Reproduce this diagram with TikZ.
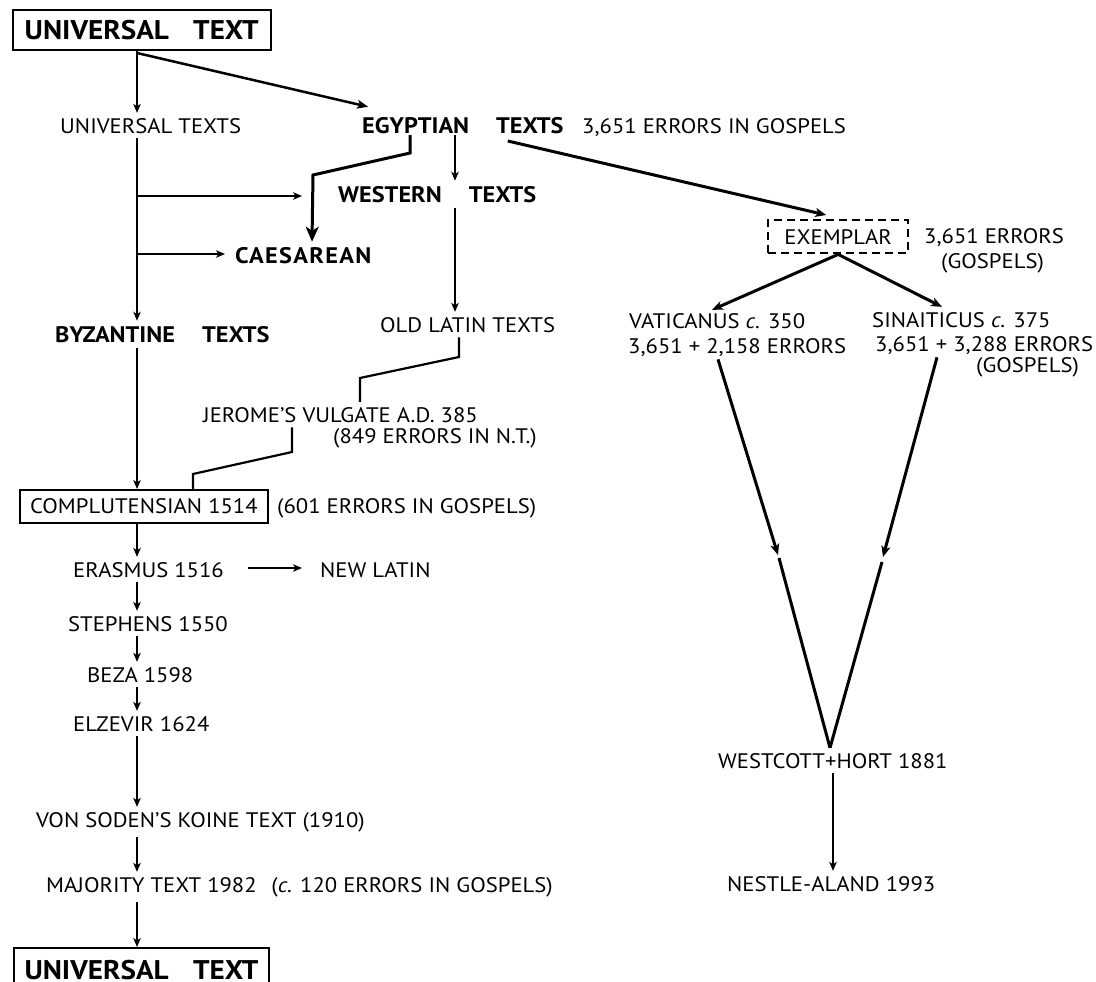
\documentclass[tikz,border=0pt]{standalone}
\usepackage{fontspec}
\setmainfont{PT Sans}[FakeStretch=1.08]
\usetikzlibrary{arrows.meta,calc}
\begin{document}
\begin{tikzpicture}[x=1pt,y=-1pt,
  txt/.style={inner xsep=0pt,inner ysep=5pt,anchor=base west,font=\fontsize{21}{25}\selectfont},
  btxt/.style={txt,font=\fontsize{22.5}{26}\selectfont\bfseries},
  ttlbox/.style={draw,line width=2pt,anchor=north west,inner sep=0pt,minimum width=258pt,font=\fontsize{27}{30}\selectfont\bfseries},
  plainbox/.style={draw,line width=1.8pt,anchor=north west,inner sep=0pt,font=\fontsize{21}{25}\selectfont},
  ln/.style={line width=2pt},
  arr/.style={ln,-{Stealth[length=9pt,width=7.5pt,inset=2.5pt]}},
  thk/.style={line width=3pt},
  tarr/.style={thk,-{Stealth[length=11pt,width=9pt,inset=3pt]}},
  barr/.style={thk,-{Stealth[length=15pt,width=13pt,inset=4pt]}},
]
\useasboundingbox (0,0) rectangle (1096,982);
\clip (0,0) rectangle (1096,982);

% ---------- nodes ----------
\node[ttlbox,minimum height=40pt] (t1) at (11.7,9) {UNIVERSAL\hspace{0.9em}TEXT};
\node[txt] (ut) at (60,133) {UNIVERSAL TEXTS};
\node[btxt] (eg) at (362,133) {EGYPTIAN\hspace{1.2em}TEXTS};
\node[txt] (eg2) at (582,133) {3,651 ERRORS IN GOSPELS};
\node[btxt] (we) at (338,202) {WESTERN\hspace{1.2em}TEXTS};
\node[btxt] (ca) at (235,263) {\addfontfeature{LetterSpace=6}CAESAREAN};
\node[txt] (ol) at (380,332) {OLD LATIN TEXTS};
\node[btxt] (by) at (55,342) {BYZANTINE\hspace{1.2em}TEXTS};
\node[txt] (je) at (203,422) {JEROME'S VULGATE A.D. 385};
\node[txt] (je2) at (333,443) {(849 ERRORS IN N.T.)};
\node[plainbox,minimum width=248pt,minimum height=33pt] (co) at (19,489) {COMPLUTENSIAN 1514};
\node[txt] (co2) at (277,513) {(601 ERRORS IN GOSPELS)};
\node[txt] (er) at (73,577) {ERASMUS 1516};
\node[txt] (nl) at (320,577) {NEW LATIN};
\node[txt] (st) at (68,631) {STEPHENS 1550};
\node[txt] (bz) at (87,682) {BEZA 1598};
\node[txt] (el) at (73,731) {ELZEVIR 1624};
\node[txt] (vs) at (36,827) {VON SODEN'S KOINE TEXT (1910)};
\node[txt] (mj) at (46,892) {MAJORITY TEXT 1982\hspace{0.7em}(\textit{c.} 120 ERRORS IN GOSPELS)};
\node[ttlbox,minimum width=255pt,minimum height=45pt] (t2) at (13,947) {UNIVERSAL\hspace{0.9em}TEXT};

\node[draw,dash pattern=on 8pt off 5pt,line width=2.4pt,anchor=north west,inner sep=0pt,
      minimum width=140pt,minimum height=33pt,font=\fontsize{21}{25}\selectfont] (ex) at (767,219) {EXEMPLAR};
\node[txt] (ex2) at (924,243) {3,651 ERRORS};
\node[txt] (ex3) at (941,268) {(GOSPELS)};
\node[txt] (va) at (629,328) {VATICANUS \textit{c.} 350};
\node[txt] (va2) at (628,353) {3,651 + 2,158 ERRORS};
\node[txt] (si) at (872,327) {SINAITICUS \textit{c.} 375};
\node[txt] (si2) at (875,351) {3,651 + 3,288 ERRORS};
\node[txt] (si3) at (976,372) {(GOSPELS)};
\node[txt] (wh) at (718,768) {WESTCOTT+HORT 1881};
\node[txt] (na) at (727,891) {NESTLE-ALAND 1993};

% ---------- helper coordinates ----------
\coordinate (jtop) at (137,53);
\coordinate (b1) at (137,196);
\coordinate (b2) at (137,254);
\coordinate (vamid) at (778,555);
\coordinate (simid) at (883,557);

% ---------- connectors ----------
\draw[arr] (jtop) -- (jtop |- ut.north);
\draw[line width=2.5pt,-{Stealth[length=11pt,width=9pt,inset=3pt]}] (jtop) -- ($(eg.north west)+(6,-5)$);
\draw[ln] (jtop) -- (jtop |- t1.south);

\draw[arr] (ut.south -| jtop) -- (jtop |- by.north);
\draw[arr] (b1) -- ($(we.west |- b1)+(-36,0)$);
\draw[arr] (b2) -- ($(ca.west |- b2)+(-10,0)$);

\draw[barr] ($(eg.base west)+(48,2)$) -- (410,153) -- (313,175) -- (ca.north -| 312,0);
\draw[arr] ($(eg.base west)+(93,2)$) -- (we.north -| 455,0);
\draw[arr] (we.south -| 455,0) -- (ol.north -| 455,0);

\draw[line width=2.2pt] (ol.south -| 459,0) -- (459,357) -- (360,378) -- (je.north -| 360,0);
\draw[arr] (by.south -| jtop) -- (jtop |- co.north);
\draw[line width=2.2pt] (je.south -| 292,0) -- (292,452) -- (193,474) -- (co.north -| 193,0);

\draw[arr] (co.south -| jtop) -- (jtop |- er.north);
\draw[arr] ($(er.base east)+(24,-9)$) -- ($(nl.base west)+(-18,-9)$);
\draw[arr] (er.south -| jtop) -- (jtop |- st.north);
\draw[arr] (st.south -| jtop) -- (jtop |- bz.north);
\draw[arr] (bz.south -| jtop) -- (jtop |- el.north);
\draw[arr] (el.south -| jtop) -- (jtop |- vs.north);
\draw[arr] (vs.south -| jtop) -- (jtop |- mj.north);
\draw[arr] (mj.south -| jtop) -- (jtop |- t2.north);

\draw[tarr] ($(eg.base east)+(-56,8)$) -- ($(ex.north)+(-12,-4)$);
\draw[tarr] (ex.south) -- ($(va.north west)+(83,2)$);
\draw[tarr] (ex.south) -- ($(si.north west)+(70,0)$);
\draw[tarr] ($(va2.south west)+(90,-2)$) -- (vamid);
\draw[thk] ($(vamid)+(1,3)$) -- (wh.north -| 830,0);
\draw[tarr] ($(si2.south west)+(62,-2)$) -- (simid);
\draw[thk] ($(simid)+(-1,5)$) -- (wh.north -| 830,0);
\draw[arr] (wh.south -| 833,0) -- (na.north -| 833,0);
\end{tikzpicture}
\end{document}
